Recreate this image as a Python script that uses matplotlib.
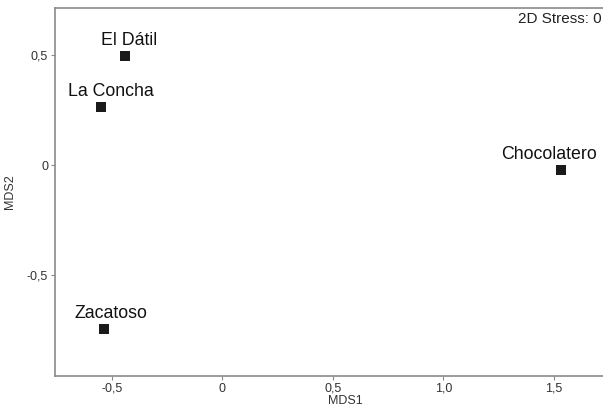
import matplotlib
matplotlib.use("Agg")
import matplotlib.pyplot as plt

# MDS ordination coordinates per site
sites = ["El Dátil", "La Concha", "Chocolatero", "Zacatoso"]
mds1 = [-0.443, -0.548, 1.534, -0.534]
mds2 = [0.495, 0.264, -0.023, -0.745]
stress_label = "2D Stress: 0"

xticks = [-0.5, 0.0, 0.5, 1.0, 1.5]
xtick_labels = ["-0,5", "0", "0,5", "1,0", "1,5"]
yticks = [-0.5, 0.0, 0.5]
ytick_labels = ["-0,5", "0", "0,5"]

# label nudges (points) so names sit above their markers
label_offsets = [(3, 5), (7, 5), (-9, 5), (5, 5)]

plt.rcParams.update({
    "font.family": ["Liberation Sans", "DejaVu Sans"],
})

fig = plt.figure(figsize=(6.03, 4.09), dpi=100)
ax = fig.add_axes([0.0912, 0.0807, 0.9088, 0.8997])

spine_col = "#8a8a8a"
for side in ["left", "bottom", "top"]:
    ax.spines[side].set_color(spine_col)
    ax.spines[side].set_linewidth(1.2)
ax.spines["right"].set_visible(False)

ax.scatter(mds1, mds2, marker="s", s=42, linewidths=0, color="#1a1a1a", zorder=3)
for name, x, y, off in zip(sites, mds1, mds2, label_offsets):
    ax.annotate(name, (x, y), xytext=off, textcoords="offset points",
                ha="center", va="bottom", fontsize=12.8, color="#111111")

ax.set_xlim(-0.758, 1.722)
ax.set_ylim(-0.959, 0.714)

ax.set_xticks(xticks)
ax.set_xticklabels(xtick_labels)
ax.set_yticks(yticks)
ax.set_yticklabels(ytick_labels)
ax.tick_params(direction="out", length=3, width=0.8, color=spine_col,
               labelsize=9, labelcolor="#333333", pad=2)

ax.set_xlabel("MDS1", fontsize=9, color="#333333", labelpad=0)
ax.xaxis.set_label_coords((345 - 55) / (603 - 55), -0.052)
ax.set_ylabel("MDS2", fontsize=9, color="#333333", labelpad=8)

ax.text(0.997, 0.988, stress_label, transform=ax.transAxes, ha="right",
        va="top", fontsize=11, color="#222222")

fig.savefig("out.png", dpi=100)
